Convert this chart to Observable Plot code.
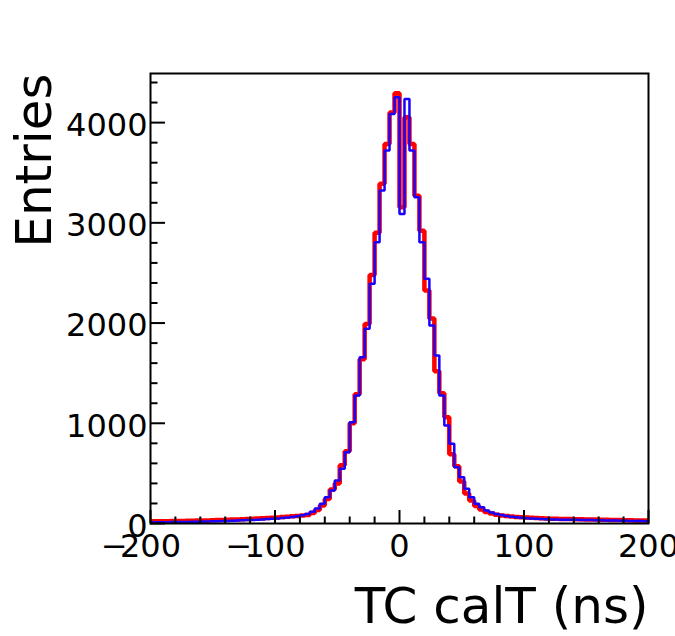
<!DOCTYPE html>
<html><head><meta charset="utf-8">
<script src="https://cdn.jsdelivr.net/npm/d3@7"></script>
<script src="https://cdn.jsdelivr.net/npm/@observablehq/plot@0.6"></script>
<style>body{margin:0;background:#fff}</style>
</head><body><div id="chart"></div>
<script>
// Histogram binning: 100 bins of 4 ns from -200 to 200
const xMin = -200, binWidth = 4;

// Red histogram (bin contents, left to right)
const redCounts = [
  22, 22, 23, 23, 24, 25, 26, 27, 28, 29,
  30, 31, 33, 34, 35, 37, 39, 41, 43, 45,
  47, 49, 52, 55, 58, 61, 64, 68, 72, 76,
  80, 84, 105, 135, 180, 245, 340, 400, 580, 720,
  1000, 1290, 1640, 1990, 2480, 2900, 3390, 3787, 4100, 4292,
  3155, 4053, 3787, 3270, 2920, 2324, 2045, 1520, 1300, 1060,
  690, 570, 420, 300, 230, 175, 140, 115, 100, 88,
  80, 76, 70, 66, 62, 60, 57, 54, 52, 50,
  48, 47, 46, 45, 44, 43, 42, 41, 40, 39,
  38, 37, 36, 35, 34, 33, 32, 31, 30, 29
];

// Blue histogram (bin contents, left to right)
const blueCounts = [
  12, 12, 13, 13, 14, 15, 16, 16, 17, 18,
  19, 20, 22, 23, 24, 26, 28, 30, 32, 34,
  36, 38, 41, 44, 47, 51, 55, 60, 66, 73,
  82, 95, 118, 150, 197, 262, 329, 429, 546, 711,
  1010, 1277, 1659, 1942, 2391, 2806, 3322, 3721, 4087, 4253,
  3089, 4236, 3721, 3255, 2806, 2441, 1975, 1676, 1277, 978,
  795, 562, 462, 346, 262, 196, 163, 130, 110, 95,
  84, 75, 68, 62, 57, 53, 50, 47, 45, 42,
  40, 39, 38, 38, 37, 37, 36, 35, 34, 33,
  32, 31, 30, 29, 28, 27, 26, 25, 24, 23
];

const xMajorTicks = [-200, -100, 0, 100, 200];
const xMinorTicks = [-180, -160, -140, -120, -80, -60, -40, -20, 20, 40, 60, 80, 120, 140, 160, 180];
const yMajorTicks = [0, 1000, 2000, 3000, 4000];
const yMinorTicks = [200, 400, 600, 800, 1200, 1400, 1600, 1800, 2200, 2400, 2600, 2800, 3200, 3400, 3600, 3800, 4200, 4400];
const xTitle = "TC calT (ns)";
const yTitle = "Entries";
const xDomain = [-200, 200];
const yDomain = [0, 4490];

function steps(counts) {
  const pts = counts.map((c, i) => ({x: xMin + i * binWidth, y: c}));
  pts.push({x: xMin + counts.length * binWidth, y: counts[counts.length - 1]});
  return pts;
}

const W = 675, H = 636, mL = 150, mR = 27, mT = 73, mB = 113;
const pw = W - mL - mR, ph = H - mT - mB;
const font = "DejaVu Sans";

const chart = Plot.plot({
  width: W, height: H,
  marginLeft: mL, marginRight: mR, marginTop: mT, marginBottom: mB,
  style: {fontFamily: font, background: "white", color: "black"},
  x: {domain: xDomain, axis: null},
  y: {domain: yDomain, axis: null},
  marks: [
    Plot.line(steps(redCounts), {x: "x", y: "y", curve: "step-after", stroke: "#ff0000", strokeWidth: 4.5, strokeLinejoin: "miter", strokeLinecap: "butt"}),
    Plot.line(steps(blueCounts), {x: "x", y: "y", curve: "step-after", stroke: "#1a00ff", strokeWidth: 2.5, strokeLinejoin: "miter", strokeLinecap: "butt"}),
    Plot.frame({stroke: "black", strokeWidth: 2}),
    Plot.tickY(yMajorTicks, {y: d => d, insetRight: pw - 15, stroke: "black", strokeWidth: 2}),
    Plot.tickY(yMinorTicks, {y: d => d, insetRight: pw - 7.5, stroke: "black", strokeWidth: 2}),
    Plot.tickX(xMajorTicks, {x: d => d, insetTop: ph - 13, stroke: "black", strokeWidth: 2}),
    Plot.tickX(xMinorTicks, {x: d => d, insetTop: ph - 6.5, stroke: "black", strokeWidth: 2}),
    Plot.text(yMajorTicks, {y: d => d, text: d => String(d), frameAnchor: "left", textAnchor: "end", dx: -3, dy: 3, fontSize: 32, fill: "black"}),
    Plot.text(xMajorTicks, {x: d => d, text: d => String(Math.abs(d)), frameAnchor: "bottom", lineAnchor: "bottom", dy: 33, fontSize: 32, fill: "black"}),
    Plot.text(xMajorTicks.filter(d => d < 0), {x: d => d, text: () => "\u2212", frameAnchor: "bottom", lineAnchor: "bottom", dx: -36, dy: 33, fontSize: 32, fill: "black"}),
    Plot.text([xTitle], {text: d => d, frameAnchor: "bottom-right", textAnchor: "end", lineAnchor: "bottom", dy: 99, fontSize: 50, fill: "black"}),
    Plot.text([yTitle], {text: d => d, frameAnchor: "top-left", textAnchor: "end", lineAnchor: "bottom", rotate: -90, dx: -100, dy: 0, fontSize: 50, fill: "black"})
  ]
});
document.getElementById("chart").appendChild(chart);
</script>
</body></html>
